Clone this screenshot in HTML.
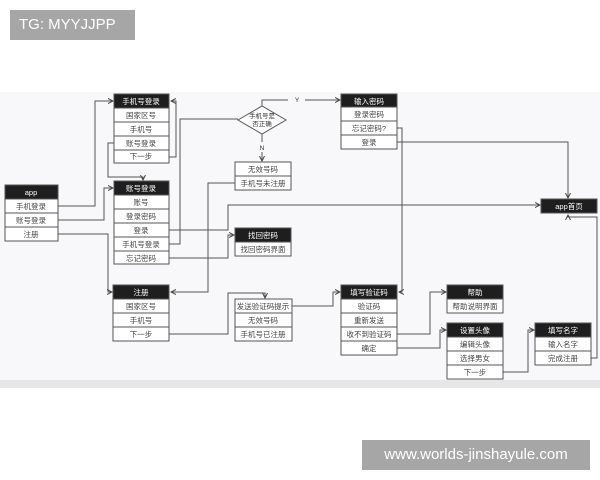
<!DOCTYPE html>
<html><head><meta charset="utf-8"><style>
body{margin:0;width:600px;height:480px;background:#fff;overflow:hidden;position:relative;font-family:"Liberation Sans","Noto Sans CJK SC",sans-serif}
.b{position:absolute;background:#a6a6a6;color:#fff}
</style></head><body>
<div class="b" style="left:10px;top:10px;width:125px;height:30px;font-size:15px;line-height:30px;padding-left:9px;box-sizing:border-box">TG: MYYJJPP</div>
<svg style="position:absolute;left:0;top:0" width="600" height="480" font-family="Liberation Sans, Noto Sans CJK SC, sans-serif" font-size="7" text-anchor="middle">
<defs><marker id="a" markerWidth="6" markerHeight="6" refX="5" refY="3" orient="auto"><path d="M0,0.5 L5,3 L0,5.5" fill="none" stroke="#444" stroke-width="1"/></marker></defs>
<rect x="0" y="92" width="600" height="288" fill="#f8f8fa"/>
<rect x="0" y="380" width="600" height="8" fill="#e6e6e8"/>
<g fill="none" stroke="#555" stroke-width="1">
<polyline points="58,206 95,206 95,101 113,101" marker-end="url(#a)"/>
<polyline points="58,220 104,220 104,188 113,188" marker-end="url(#a)"/>
<polyline points="58,234 108,234 108,292 112,292" marker-end="url(#a)"/>
<polyline points="114,143 108,143 108,177 143,177 143,180" marker-end="url(#a)"/>
<polyline points="169,157 176,157 176,101 171,101" marker-end="url(#a)"/>
<polyline points="169,244 180,244 180,119 238,119"/>
<polyline points="262,106 262,100 288,100"/><polyline points="305,100 340,100" marker-end="url(#a)"/>
<polyline points="262,134 262,142"/><polyline points="262,152 262,161" marker-end="url(#a)"/>
<polyline points="235,183 208,183 208,292 171,292" marker-end="url(#a)"/>
<polyline points="169,230 228,230 228,205 540,205" marker-end="url(#a)"/>
<polyline points="169,258 228,258 228,235 234,235" marker-end="url(#a)"/>
<polyline points="397,128 402,128 402,292 399,292" marker-end="url(#a)"/>
<polyline points="397,142 568,142 568,198" marker-end="url(#a)"/>
<polyline points="591,358 597,358 597,217 568,217 568,215" marker-end="url(#a)"/>
<polyline points="169,334 228,334 228,293 265,293 265,298" marker-end="url(#a)"/>
<polyline points="292,306 333,306 333,292 340,292" marker-end="url(#a)"/>
<polyline points="397,334 430,334 430,292 446,292" marker-end="url(#a)"/>
<polyline points="397,348 440,348 440,330 446,330" marker-end="url(#a)"/>
<polyline points="503,372 528,372 528,330 534,330" marker-end="url(#a)"/>
<polygon points="238,120 262,106 286,120 262,134" fill="#fff"/>
</g>
<g fill="#333" font-size="6.5"><text x="262" y="118">手机号是</text><text x="262" y="126">否正确</text><text x="297" y="102">Y</text><text x="262" y="150">N</text></g>
<g id="boxes" font-size="7.5">
<!-- helper: header + rows -->
<g stroke="#555" stroke-width="1">
<rect x="5" y="185" width="53" height="14" fill="#1e1e1e"/><rect x="5" y="199" width="53" height="14" fill="#fff"/><rect x="5" y="213" width="53" height="14" fill="#fff"/><rect x="5" y="227" width="53" height="14" fill="#fff"/>
<rect x="114" y="94" width="55" height="14" fill="#1e1e1e"/><rect x="114" y="108" width="55" height="14" fill="#fff"/><rect x="114" y="122" width="55" height="14" fill="#fff"/><rect x="114" y="136" width="55" height="14" fill="#fff"/><rect x="114" y="150" width="55" height="13" fill="#fff"/>
<rect x="114" y="181" width="55" height="14" fill="#1e1e1e"/><rect x="114" y="195" width="55" height="14" fill="#fff"/><rect x="114" y="209" width="55" height="14" fill="#fff"/><rect x="114" y="223" width="55" height="14" fill="#fff"/><rect x="114" y="237" width="55" height="14" fill="#fff"/><rect x="114" y="251" width="55" height="13" fill="#fff"/>
<rect x="235" y="162" width="56" height="14" fill="#fff"/><rect x="235" y="176" width="56" height="14" fill="#fff"/>
<rect x="341" y="94" width="56" height="13" fill="#1e1e1e"/><rect x="341" y="107" width="56" height="14" fill="#fff"/><rect x="341" y="121" width="56" height="14" fill="#fff"/><rect x="341" y="135" width="56" height="14" fill="#fff"/>
<rect x="541" y="199" width="56" height="14" fill="#1e1e1e"/>
<rect x="235" y="228" width="56" height="14" fill="#1e1e1e"/><rect x="235" y="242" width="56" height="14" fill="#fff"/>
<rect x="113" y="285" width="56" height="14" fill="#1e1e1e"/><rect x="113" y="299" width="56" height="14" fill="#fff"/><rect x="113" y="313" width="56" height="14" fill="#fff"/><rect x="113" y="327" width="56" height="14" fill="#fff"/>
<rect x="235" y="299" width="57" height="14" fill="#fff"/><rect x="235" y="313" width="57" height="14" fill="#fff"/><rect x="235" y="327" width="57" height="14" fill="#fff"/>
<rect x="341" y="285" width="56" height="14" fill="#1e1e1e"/><rect x="341" y="299" width="56" height="14" fill="#fff"/><rect x="341" y="313" width="56" height="14" fill="#fff"/><rect x="341" y="327" width="56" height="14" fill="#fff"/><rect x="341" y="341" width="56" height="14" fill="#fff"/>
<rect x="447" y="285" width="56" height="14" fill="#1e1e1e"/><rect x="447" y="299" width="56" height="14" fill="#fff"/>
<rect x="447" y="323" width="56" height="14" fill="#1e1e1e"/><rect x="447" y="337" width="56" height="14" fill="#fff"/><rect x="447" y="351" width="56" height="14" fill="#fff"/><rect x="447" y="365" width="56" height="14" fill="#fff"/>
<rect x="535" y="323" width="56" height="14" fill="#1e1e1e"/><rect x="535" y="337" width="56" height="14" fill="#fff"/><rect x="535" y="351" width="56" height="14" fill="#fff"/>
</g>
<g fill="#fff">
<text x="31" y="195">app</text><text x="141" y="104">手机号登录</text><text x="141" y="191">账号登录</text><text x="369" y="104">输入密码</text><text x="569" y="209">app首页</text><text x="263" y="238">找回密码</text><text x="141" y="295">注册</text><text x="369" y="295">填写验证码</text><text x="475" y="295">帮助</text><text x="475" y="333">设置头像</text><text x="563" y="333">填写名字</text>
</g>
<g fill="#444">
<text x="31" y="209">手机登录</text><text x="31" y="223">账号登录</text><text x="31" y="237">注册</text>
<text x="141" y="118">国家区号</text><text x="141" y="132">手机号</text><text x="141" y="146">账号登录</text><text x="141" y="159">下一步</text>
<text x="141" y="205">账号</text><text x="141" y="219">登录密码</text><text x="141" y="233">登录</text><text x="141" y="247">手机号登录</text><text x="141" y="261">忘记密码</text>
<text x="263" y="172">无效号码</text><text x="263" y="186">手机号未注册</text>
<text x="369" y="117">登录密码</text><text x="369" y="131">忘记密码?</text><text x="369" y="145">登录</text>
<text x="263" y="252">找回密码界面</text>
<text x="141" y="309">国家区号</text><text x="141" y="323">手机号</text><text x="141" y="337">下一步</text>
<text x="263" y="309">发送验证码提示</text><text x="263" y="323">无效号码</text><text x="263" y="337">手机号已注册</text>
<text x="369" y="309">验证码</text><text x="369" y="323">重新发送</text><text x="369" y="337">收不到验证码</text><text x="369" y="351">确定</text>
<text x="475" y="309">帮助说明界面</text>
<text x="475" y="347">编辑头像</text><text x="475" y="361">选择男女</text><text x="475" y="375">下一步</text>
<text x="563" y="347">输入名字</text><text x="563" y="361">完成注册</text>
</g>
</g>
</svg>
<div class="b" style="left:362px;top:440px;width:228px;height:30px;font-size:15px;line-height:30px;text-align:center">www.worlds-jinshayule.com</div>
</body></html>
